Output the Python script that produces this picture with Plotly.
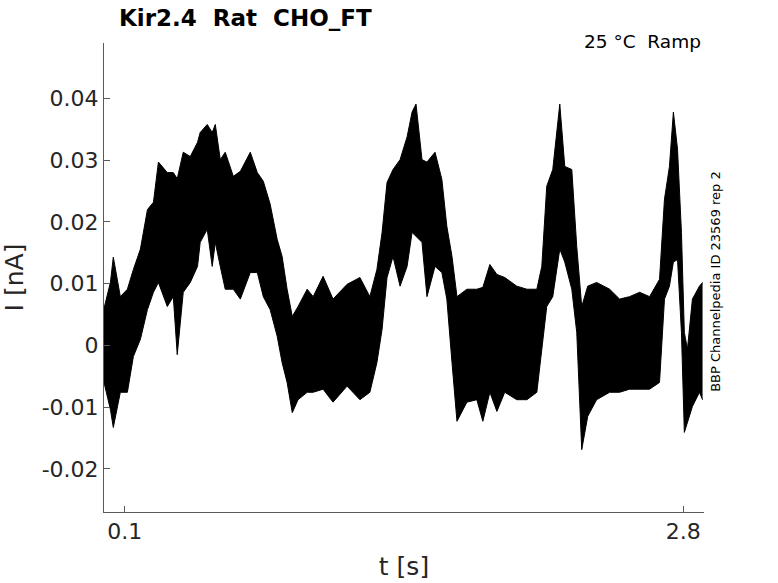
import plotly.graph_objects as go

t = [0.0, 0.031, 0.045, 0.079, 0.113, 0.142, 0.176, 0.210, 0.239, 0.263,
     0.306, 0.335, 0.354, 0.383, 0.417, 0.452, 0.465, 0.499, 0.523, 0.538,
     0.562, 0.586, 0.625, 0.659, 0.707, 0.741, 0.770, 0.803, 0.837, 0.861,
     0.885, 0.910, 0.938, 0.982, 1.011, 1.059, 1.107, 1.175, 1.237, 1.285,
     1.319, 1.344, 1.368, 1.397, 1.431, 1.465, 1.489, 1.508, 1.537, 1.561,
     1.600, 1.633, 1.657, 1.682, 1.706, 1.754, 1.802, 1.831, 1.865, 1.899,
     1.937, 1.995, 2.044, 2.092, 2.116, 2.140, 2.169, 2.203, 2.227, 2.261,
     2.285, 2.309, 2.338, 2.381, 2.444, 2.492, 2.540, 2.589, 2.637, 2.685,
     2.709, 2.733, 2.752, 2.772, 2.791, 2.805, 2.820, 2.844, 2.878, 2.893]

i_upper = [0.0060, 0.0102, 0.0143, 0.0079, 0.0091, 0.0123, 0.0156, 0.0220, 0.0232, 0.0297,
           0.0280, 0.0280, 0.0270, 0.0313, 0.0306, 0.0329, 0.0345, 0.0358, 0.0345, 0.0358,
           0.0301, 0.0313, 0.0274, 0.0282, 0.0313, 0.0280, 0.0266, 0.0229, 0.0172, 0.0144,
           0.0091, 0.0047, 0.0063, 0.0091, 0.0079, 0.0112, 0.0075, 0.0099, 0.0110, 0.0079,
           0.0123, 0.0183, 0.0264, 0.0285, 0.0301, 0.0338, 0.0378, 0.0391, 0.0301, 0.0297,
           0.0313, 0.0269, 0.0193, 0.0144, 0.0079, 0.0091, 0.0091, 0.0094, 0.0131, 0.0115,
           0.0110, 0.0096, 0.0091, 0.0091, 0.0128, 0.0258, 0.0285, 0.0391, 0.0290, 0.0285,
           0.0160, 0.0063, 0.0096, 0.0102, 0.0091, 0.0075, 0.0079, 0.0086, 0.0079, 0.0107,
           0.0237, 0.0290, 0.0378, 0.0318, 0.0183, 0.0021, -0.0006, 0.0075, 0.0096, 0.0102]

i_lower = [-0.0060, -0.0104, -0.0133, -0.0076, -0.0076, -0.0018, 0.0010, 0.0058, 0.0086, 0.0102,
           0.0063, 0.0079, -0.0015, 0.0086, 0.0102, 0.0128, 0.0167, 0.0188, 0.0128, 0.0167,
           0.0128, 0.0091, 0.0091, 0.0075, 0.0118, 0.0118, 0.0079, 0.0058, 0.0015, -0.0028,
           -0.0060, -0.0109, -0.0088, -0.0076, -0.0076, -0.0071, -0.0092, -0.0066, -0.0088, -0.0076,
           -0.0028, 0.0026, 0.0110, 0.0144, 0.0096, 0.0128, 0.0183, 0.0177, 0.0167, 0.0079,
           0.0128, 0.0118, 0.0075, -0.0028, -0.0123, -0.0092, -0.0088, -0.0123, -0.0076, -0.0107,
           -0.0076, -0.0088, -0.0088, -0.0076, -0.0011, 0.0063, 0.0079, 0.0156, 0.0135, 0.0091,
           0.0021, -0.0169, -0.0115, -0.0088, -0.0076, -0.0076, -0.0071, -0.0071, -0.0071, -0.0060,
           0.0075, 0.0096, 0.0135, 0.0139, 0.0021, -0.0141, -0.0125, -0.0099, -0.0076, -0.0088]

y_ticks = [0.04, 0.03, 0.02, 0.01, 0, -0.01, -0.02]
y_labels = ['0.04', '0.03', '0.02', '0.01', '0', '-0.01', '-0.02']
x_ticks = [0.1, 2.8]
x_labels = ['0.1', '2.8']

fig = go.Figure()
fig.add_trace(go.Scatter(x=t, y=i_lower, mode='lines',
                         line=dict(color='black', width=1), showlegend=False))
fig.add_trace(go.Scatter(x=t, y=i_upper, mode='lines', fill='tonexty',
                         fillcolor='black', line=dict(color='black', width=1),
                         showlegend=False))

axis_col = '#5a5a5a'
fig.update_layout(
    width=778, height=583,
    margin=dict(l=104, r=74, t=43, b=71),
    plot_bgcolor='white', paper_bgcolor='white',
    font=dict(family='DejaVu Sans', color='#262626'),
    xaxis=dict(range=[0.0, 2.9], tickvals=x_ticks, ticktext=x_labels,
               ticks='inside', ticklen=6, tickcolor=axis_col,
               showline=True, linecolor=axis_col, linewidth=1,
               showgrid=False, zeroline=False, tickfont=dict(size=22),
               automargin=False,
               title=dict(text='t [s]', font=dict(size=25), standoff=14)),
    yaxis=dict(range=[-0.027, 0.049], tickvals=y_ticks, ticktext=y_labels,
               ticks='inside', ticklen=6, tickcolor=axis_col,
               showline=True, linecolor=axis_col, linewidth=1,
               showgrid=False, zeroline=False, tickfont=dict(size=22),
               automargin=False,
               title=dict(text='I [nA]', font=dict(size=25), standoff=14)),
    annotations=[
        dict(text='<b>Kir2.4\u00a0\u00a0Rat\u00a0\u00a0CHO_FT</b>', xref='paper', yref='paper',
             x=0.236, y=1.053, xanchor='center', yanchor='middle',
             showarrow=False, font=dict(size=23, color='black')),
        dict(text='25 °C\u00a0\u00a0Ramp', xref='paper', yref='paper',
             x=0.999, y=1.004, xanchor='right', yanchor='middle',
             showarrow=False, font=dict(size=18.5, color='black')),
        dict(text='BBP Channelpedia ID 23569 rep 2', xref='paper', yref='paper',
             x=1.018, y=0.4925, xanchor='center', yanchor='middle', textangle=-90,
             showarrow=False, font=dict(size=13, color='black')),
    ],
)

# drop the default page margin so the figure sits at the window corner
fig.write_html("out.html", config={'displayModeBar': False},
               post_script="document.body.style.margin='0';")
